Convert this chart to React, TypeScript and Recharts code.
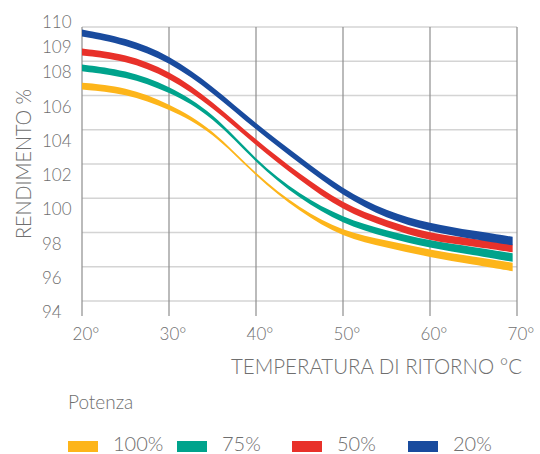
import { Area, AreaChart, CartesianGrid, XAxis, YAxis } from "recharts";

// return temperature (°C) sampled along the curves
const temps = [20, 25, 30, 35, 40, 45, 50, 55, 60, 65, 69.5];

// each curve is drawn as a ribbon: lower / upper edge
const p100Lo = [106.35, 106.13, 105.23, 103.9, 101.24, 99.21, 97.7, 97.13, 96.55, 96.13, 95.74];
const p100Hi = [106.75, 106.51, 105.55, 104.08, 101.36, 99.41, 98.06, 97.53, 96.99, 96.59, 96.24];
const p75Lo = [107.41, 107.12, 106.23, 104.8, 102.04, 99.95, 98.49, 97.71, 97.08, 96.69, 96.29];
const p75Hi = [107.81, 107.5, 106.59, 105.04, 102.2, 100.19, 98.85, 98.11, 97.52, 97.15, 96.79];
const p50Lo = [108.34, 108.05, 107.08, 105.32, 103.07, 101.06, 99.26, 98.3, 97.49, 97.19, 96.84];
const p50Hi = [108.74, 108.45, 107.48, 105.68, 103.39, 101.42, 99.66, 98.7, 97.93, 97.65, 97.3];
const p20Lo = [109.45, 108.98, 107.99, 106.19, 103.98, 102.04, 100.11, 98.8, 98.06, 97.6, 97.25];
const p20Hi = [109.85, 109.38, 108.39, 106.57, 104.34, 102.42, 100.51, 99.24, 98.52, 98.1, 97.75];

const xTicks = [20, 30, 40, 50, 60, 70];
const yTicks = [94, 96, 98, 100, 102, 104, 106, 108, 109, 110];
const yGrid = [94, 96, 98, 100, 102, 104, 106, 108, 110];

const series = [
  { key: "p100", name: "100%", color: "#fdb51a", lo: p100Lo, hi: p100Hi },
  { key: "p75", name: "75%", color: "#00a38c", lo: p75Lo, hi: p75Hi },
  { key: "p50", name: "50%", color: "#e8312a", lo: p50Lo, hi: p50Hi },
  { key: "p20", name: "20%", color: "#194b9e", lo: p20Lo, hi: p20Hi },
];

const data = temps.map((t, i) => {
  const row: Record<string, number | number[]> = { t };
  series.forEach((s) => {
    row[s.key] = [s.lo[i], s.hi[i]];
  });
  return row;
});

const grey = "#6f6f6f";
const font = "Lato, 'Open Sans', sans-serif";

function YTick(props: any) {
  const { y, payload } = props;
  const v = payload.value;
  const dy = v === 110 ? 1 : v === 109 ? 9 : 17;
  return (
    <text x={42} y={y + dy} fontSize={17} fill={grey} fontFamily={font} fontWeight={300}>
      {v}
    </text>
  );
}

function XTick(props: any) {
  const { x, payload } = props;
  return (
    <text x={x + 4} y={340} textAnchor="middle" fontSize={17} fill={grey} fontFamily={font} fontWeight={300}>
      {payload.value}°
    </text>
  );
}

const legendX = [68, 177, 292, 408];

export default function App() {
  return (
    <div style={{ position: "relative", width: 540, height: 454 }}>
      <style>{"body{margin:0;overflow:hidden}"}</style>
      <AreaChart width={540} height={454} data={data} margin={{ top: 27, right: 23, left: 12, bottom: 123 }}>
        <CartesianGrid vertical={false} horizontalValues={yGrid} stroke="#d4d4d4" strokeWidth={1.5} />
        <CartesianGrid horizontal={false} stroke="#8e8e8e" strokeWidth={1.2} />
        <XAxis
          dataKey="t"
          type="number"
          domain={[20, 70]}
          ticks={xTicks}
          interval={0}
          axisLine={false}
          tickLine={{ stroke: "#8e8e8e", strokeWidth: 1.2 }}
          tickSize={15}
          height={30}
          tick={(p: any) => <XTick {...p} />}
        />
        <YAxis
          type="number"
          domain={[94, 110]}
          ticks={yTicks}
          interval={0}
          axisLine={false}
          tickLine={false}
          width={70}
          tick={(p: any) => <YTick {...p} />}
        />
        {series.map((s) => (
          <Area
            key={s.key}
            dataKey={s.key}
            type="basis"
            stroke="none"
            fill={s.color}
            fillOpacity={1}
            dot={false}
            activeDot={false}
            isAnimationActive={false}
          />
        ))}
      </AreaChart>
      <svg
        width={540}
        height={454}
        style={{ position: "absolute", left: 0, top: 0, pointerEvents: "none" }}
        fontFamily={font}
        fontWeight={300}
        fill={grey}
      >
        <text transform="translate(31 164) rotate(-90) scale(0.9 1)" textAnchor="middle" fontSize={22}>
          RENDIMENTO %
        </text>
        <text transform="translate(522 374) scale(0.93 1)" textAnchor="end" fontSize={22}>
          TEMPERATURA DI RITORNO °C
        </text>
        <text x={68} y={409} fontSize={19}>
          Potenza
        </text>
        {series.map((s, i) => (
          <g key={s.key}>
            <rect x={legendX[i]} y={441} width={30} height={11} fill={s.color} />
            <text x={legendX[i] + 45} y={451} fontSize={20}>
              {s.name}
            </text>
          </g>
        ))}
      </svg>
    </div>
  );
}
